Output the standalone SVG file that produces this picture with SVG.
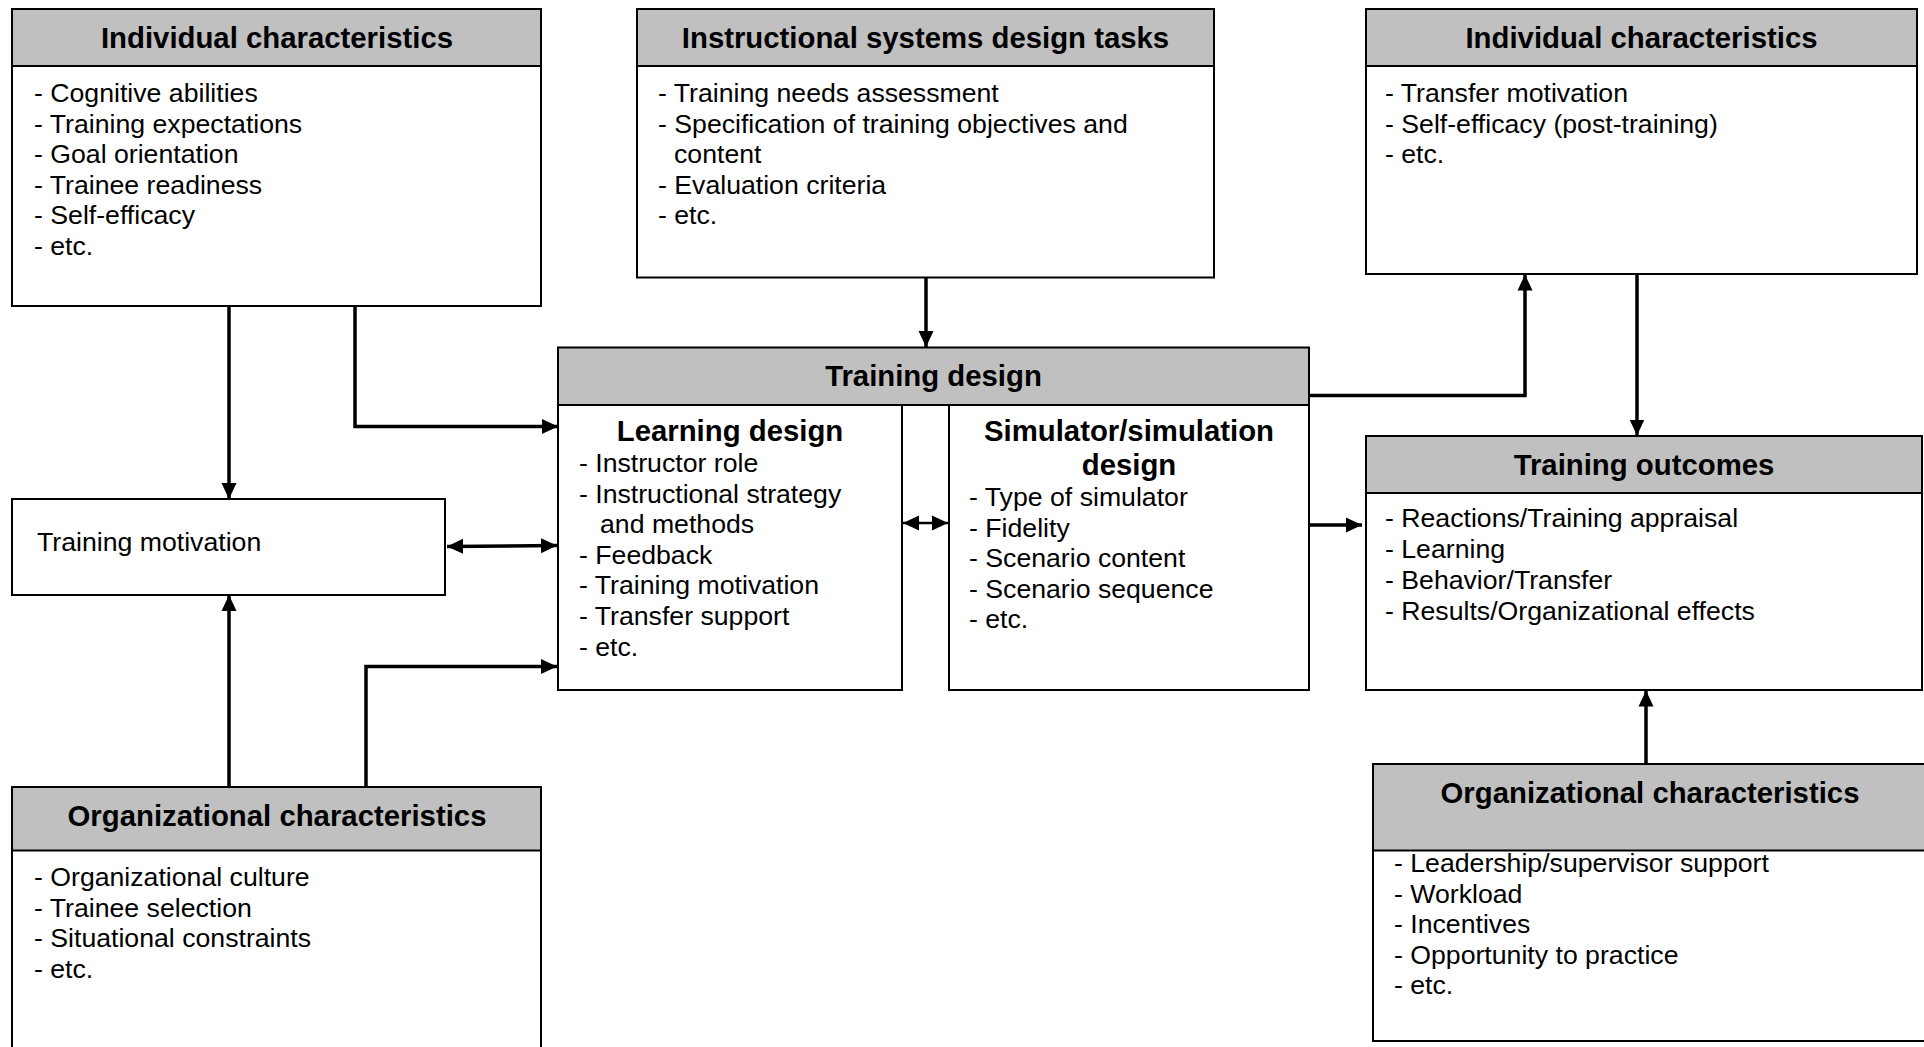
<svg xmlns="http://www.w3.org/2000/svg" width="1924" height="1047" viewBox="0 0 1924 1047">
<style>
.box{fill:#fff;stroke:#000;stroke-width:2}
.hdr{fill:#c0c0c0;stroke:#000;stroke-width:2}
.t{font-family:"Liberation Sans",Arial,sans-serif;font-size:29.33px;font-weight:bold;fill:#000;text-anchor:middle}
.b{font-family:"Liberation Sans",Arial,sans-serif;font-size:26.67px;fill:#000}
.c{fill:none;stroke:#000;stroke-width:3.5}
.c2{fill:none;stroke:#000;stroke-width:2.5}
</style>
<defs>
<marker id="arr" markerUnits="userSpaceOnUse" markerWidth="16" markerHeight="16" refX="16" refY="8" orient="auto-start-reverse" viewBox="0 0 16 16">
<path d="M0,0.5 L16,8 L0,15.5 z" fill="#000"/>
</marker>
</defs>
<rect width="1924" height="1047" fill="#fff"/>

<g id="ind-left">
<rect class="box" x="12" y="9" width="529" height="297"/>
<rect class="hdr" x="12" y="9" width="529" height="57"/>
<text class="t" x="277" y="48">Individual characteristics</text>
<text class="b" x="34" y="102">- Cognitive abilities</text>
<text class="b" x="34" y="132.6">- Training expectations</text>
<text class="b" x="34" y="163.2">- Goal orientation</text>
<text class="b" x="34" y="193.8">- Trainee readiness</text>
<text class="b" x="34" y="224.4">- Self-efficacy</text>
<text class="b" x="34" y="255">- etc.</text>
</g>

<g id="isd">
<rect class="box" x="637" y="9" width="577" height="268.5"/>
<rect class="hdr" x="637" y="9" width="577" height="57"/>
<text class="t" x="925.5" y="48">Instructional systems design tasks</text>
<text class="b" x="658" y="102">- Training needs assessment</text>
<text class="b" x="658" y="132.6">- Specification of training objectives and</text>
<text class="b" x="674" y="163.2">content</text>
<text class="b" x="658" y="193.8">- Evaluation criteria</text>
<text class="b" x="658" y="224.4">- etc.</text>
</g>

<g id="ind-right">
<rect class="box" x="1366" y="9" width="551" height="265"/>
<rect class="hdr" x="1366" y="9" width="551" height="57"/>
<text class="t" x="1641.5" y="48">Individual characteristics</text>
<text class="b" x="1385" y="102">- Transfer motivation</text>
<text class="b" x="1385" y="132.6">- Self-efficacy (post-training)</text>
<text class="b" x="1385" y="163.2">- etc.</text>
</g>

<g id="training-design">
<rect class="hdr" x="558" y="347.5" width="751" height="57.5"/>
<text class="t" x="933.5" y="386">Training design</text>
</g>

<g id="learning-design">
<rect class="box" x="558" y="405" width="344" height="285"/>
<text class="t" x="730" y="441">Learning design</text>
<text class="b" x="579" y="472">- Instructor role</text>
<text class="b" x="579" y="502.6">- Instructional strategy</text>
<text class="b" x="600" y="533.2">and methods</text>
<text class="b" x="579" y="563.8">- Feedback</text>
<text class="b" x="579" y="594.4">- Training motivation</text>
<text class="b" x="579" y="625">- Transfer support</text>
<text class="b" x="579" y="655.6">- etc.</text>
</g>

<g id="simulation-design">
<rect class="box" x="949" y="405" width="360" height="285"/>
<text class="t" x="1129" y="441">Simulator/simulation</text>
<text class="t" x="1129" y="474.5">design</text>
<text class="b" x="969" y="506">- Type of simulator</text>
<text class="b" x="969" y="536.5">- Fidelity</text>
<text class="b" x="969" y="567">- Scenario content</text>
<text class="b" x="969" y="597.5">- Scenario sequence</text>
<text class="b" x="969" y="628">- etc.</text>
</g>

<g id="training-motivation">
<rect class="box" x="12" y="499" width="433" height="96"/>
<text class="b" x="37" y="550.5">Training motivation</text>
</g>

<g id="training-outcomes">
<rect class="box" x="1366" y="436" width="556" height="254"/>
<rect class="hdr" x="1366" y="436" width="556" height="57"/>
<text class="t" x="1644" y="475">Training outcomes</text>
<text class="b" x="1385" y="527">- Reactions/Training appraisal</text>
<text class="b" x="1385" y="558">- Learning</text>
<text class="b" x="1385" y="589">- Behavior/Transfer</text>
<text class="b" x="1385" y="620">- Results/Organizational effects</text>
</g>

<g id="org-left">
<rect class="box" x="12" y="787" width="529" height="280"/>
<rect class="hdr" x="12" y="787" width="529" height="63.5"/>
<text class="t" x="277" y="826">Organizational characteristics</text>
<text class="b" x="34" y="886">- Organizational culture</text>
<text class="b" x="34" y="916.6">- Trainee selection</text>
<text class="b" x="34" y="947.2">- Situational constraints</text>
<text class="b" x="34" y="977.8">- etc.</text>
</g>

<g id="org-right">
<rect class="box" x="1373" y="764" width="560" height="277"/>
<rect class="hdr" x="1373" y="764" width="560" height="86.5"/>
<text class="t" x="1650" y="803">Organizational characteristics</text>
<text class="b" x="1394" y="872">- Leadership/supervisor support</text>
<text class="b" x="1394" y="902.6">- Workload</text>
<text class="b" x="1394" y="933.2">- Incentives</text>
<text class="b" x="1394" y="963.8">- Opportunity to practice</text>
<text class="b" x="1394" y="994.4">- etc.</text>
</g>

<g id="connectors">
<path class="c" d="M229,306 V499" marker-end="url(#arr)"/>
<path class="c" d="M355,306 V426.5 H558" marker-end="url(#arr)"/>
<path class="c" d="M447,546.5 L557,545.5" marker-start="url(#arr)" marker-end="url(#arr)"/>
<path class="c" d="M229,787 V595" marker-end="url(#arr)"/>
<path class="c" d="M366,787 V666.5 H557" marker-end="url(#arr)"/>
<path class="c" d="M926,277.5 V347" marker-end="url(#arr)"/>
<path class="c2" d="M903,523 H948" marker-start="url(#arr)" marker-end="url(#arr)"/>
<path class="c" d="M1309,395.5 H1525 V274.5" marker-end="url(#arr)"/>
<path class="c" d="M1637,274 V435.5" marker-end="url(#arr)"/>
<path class="c" d="M1310,525 H1362" marker-end="url(#arr)"/>
<path class="c" d="M1646,764 V690.5" marker-end="url(#arr)"/>
</g>
</svg>
